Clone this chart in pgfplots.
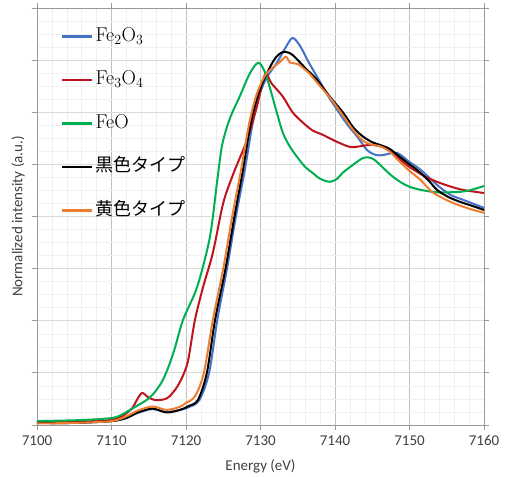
\documentclass[border=0pt]{standalone}
\usepackage{fontspec}
\setmainfont{Carlito}
\newfontfamily\lmr{Latin Modern Roman}
\newfontfamily\jp{Noto Sans CJK JP}
\usepackage{pgfplots}
\pgfplotsset{compat=1.18}

\definecolor{cblue}{RGB}{68,114,196}
\definecolor{cred}{RGB}{192,20,28}
\definecolor{cgreen}{RGB}{0,176,80}
\definecolor{corange}{RGB}{237,125,49}
\definecolor{labgray}{RGB}{64,64,64}

\begin{document}
\begin{tikzpicture}
\useasboundingbox (-37pt,-52pt) rectangle (470pt,425pt);
\begin{axis}[
    scale only axis,
    width=447pt, height=417pt,
    xmin=7100, xmax=7160, ymin=0, ymax=1.6,
    xtick={7100,7110,...,7160},
    ytick={0,0.2,...,1.6},
    yticklabels={},
    minor x tick num=4,
    minor y tick num=3,
    grid=both,
    major x grid style={gray!50, line width=0.8pt},
    major y grid style={gray!30, line width=0.8pt},
    minor grid style={gray!12, line width=0.5pt},
    axis line style={gray!80},
    tick align=outside,
    major tick length=5pt,
    minor tick length=0pt,
    tick style={gray!80, line width=0.8pt},
    xticklabel style={/pgf/number format/1000 sep={}, font=\fontsize{15}{18}\selectfont, text=labgray, yshift=-2pt},
    /pgf/number format/assume math mode=true,
    xlabel={Energy (eV)},
    ylabel={Normalized intensity (a.u.)},
    every axis x label/.style={at={(axis description cs:0.5,-0.098)}, anchor=center,
        font=\fontsize{15}{18}\selectfont, text=labgray},
    every axis y label/.style={at={(axis description cs:-0.0425,0.5)}, rotate=90, anchor=center,
        font=\fontsize{15}{18}\selectfont, text=labgray},
    legend style={at={(axis description cs:0.047,0.962)}, anchor=north west,
        draw=none, fill=none, font=\fontsize{18}{20}\selectfont,
        row sep=22.5pt, nodes={inner sep=2pt, text height=13pt, text depth=4pt}},
    legend cell align=left,
    legend image code/.code={\draw[#1, line width=2.5pt] (0pt,0pt) -- (30pt,0pt);},
    every axis plot/.append style={line width=2pt, smooth, no markers},
]
% Fe2O3
\addplot[cblue] coordinates {
(7100,0.008) (7105,0.008) (7110,0.015) (7112,0.027) (7113.5,0.046) (7115.5,0.061)
(7117.4,0.050) (7119.2,0.058) (7120.5,0.070) (7121.8,0.096) (7123.1,0.200)
(7124.2,0.403) (7125.5,0.600) (7126.7,0.800) (7127.9,0.980) (7128.9,1.150)
(7129.9,1.270) (7130.9,1.336) (7132.2,1.390) (7133.4,1.450) (7134.3,1.485)
(7135.3,1.455) (7136.5,1.390) (7137.6,1.336) (7139,1.266) (7140.3,1.209)
(7141.7,1.151) (7143,1.106) (7144.3,1.055) (7145.5,1.036) (7146.5,1.036)
(7148.3,1.044) (7150,1.009) (7151.5,0.979) (7153.7,0.921) (7155.5,0.883)
(7157.2,0.864) (7160,0.833)
};
\addlegendentry{{\lmr\fontsize{20}{22}\selectfont Fe\textsubscript{2}O\textsubscript{3}}}
% Fe3O4
\addplot[cred] coordinates {
(7100,0.010) (7108,0.015) (7110,0.020) (7111.5,0.035) (7112.8,0.065) (7113.4,0.096)
(7114.1,0.123) (7114.9,0.107) (7115.8,0.096) (7117,0.098) (7117.8,0.110)
(7118.8,0.146) (7119.6,0.190) (7120.3,0.250) (7121.2,0.403) (7122.3,0.530)
(7123.6,0.660) (7125,0.852) (7126.3,0.960) (7127.3,1.030) (7128.2,1.094)
(7129.5,1.220) (7130.6,1.344) (7131.5,1.310) (7133,1.260) (7134.3,1.200)
(7135.7,1.160) (7137,1.130) (7138.4,1.113) (7140,1.090) (7142,1.067)
(7143.5,1.070) (7144.7,1.075) (7146,1.070) (7147.4,1.056) (7148.7,1.020)
(7150,0.990) (7152,0.955) (7153.7,0.933) (7155.5,0.915) (7157.2,0.902) (7160,0.890)
};
\addlegendentry{{\lmr\fontsize{20}{22}\selectfont Fe\textsubscript{3}O\textsubscript{4}}}
% FeO
\addplot[cgreen] coordinates {
(7100,0.015) (7105,0.018) (7108.5,0.023) (7110.7,0.031) (7112.9,0.065)
(7115.2,0.107) (7116.9,0.173) (7118.3,0.276) (7119.6,0.403) (7121.5,0.530)
(7123.2,0.720) (7124.2,0.940) (7124.8,1.067) (7125.5,1.144) (7126.2,1.198)
(7127.2,1.260) (7128.6,1.351) (7129.7,1.390) (7130.5,1.360) (7131.2,1.300)
(7132.2,1.198) (7133,1.121) (7133.9,1.070) (7134.9,1.029) (7136,0.990)
(7137,0.967) (7138,0.945) (7139.3,0.933) (7140.3,0.945) (7141,0.967)
(7142.5,1.000) (7143.8,1.025) (7144.8,1.025) (7145.6,1.010) (7147.8,0.952)
(7150,0.914) (7153.2,0.894) (7156.4,0.894) (7158,0.900) (7160,0.917)
};
\addlegendentry{{\lmr\fontsize{20}{22}\selectfont FeO}}
% black type
\addplot[black] coordinates {
(7100,0.008) (7105,0.008) (7110,0.015) (7112,0.027) (7113.5,0.048) (7115.5,0.063)
(7117.4,0.048) (7119.2,0.058) (7120.3,0.072) (7121.6,0.096) (7122.8,0.200)
(7123.9,0.403) (7125.3,0.600) (7126.5,0.800) (7127.65,0.980) (7128.7,1.160)
(7129.7,1.270) (7130.7,1.340) (7131.8,1.400) (7132.6,1.425) (7133.3,1.432)
(7134.3,1.420) (7136,1.370) (7137.6,1.324) (7139.3,1.260) (7141.1,1.198)
(7142.5,1.140) (7143.8,1.106) (7145,1.085) (7146,1.075) (7147.3,1.060)
(7148.7,1.029) (7150,1.000) (7151,0.979) (7152.5,0.940) (7153.7,0.902)
(7155.2,0.875) (7156.8,0.856) (7158.5,0.840) (7160,0.825)
};
\addlegendentry{{\jp 黒色タイプ}}
% yellow type
\addplot[corange] coordinates {
(7100,0.006) (7105,0.008) (7110,0.015) (7112,0.033) (7113.5,0.055) (7115.5,0.071)
(7117.4,0.058) (7119.2,0.070) (7120,0.085) (7121.2,0.110) (7122.4,0.200)
(7123.6,0.403) (7125,0.600) (7126.2,0.800) (7127.4,0.980) (7128.5,1.160)
(7129.5,1.270) (7130.6,1.340) (7131.6,1.370) (7132.5,1.390) (7133.4,1.413)
(7134,1.390) (7135,1.385) (7136.5,1.350) (7138,1.300) (7139.5,1.250)
(7141,1.190) (7142.5,1.130) (7143.8,1.090) (7145,1.075) (7146,1.070)
(7147.3,1.050) (7148.7,1.010) (7150,0.975) (7151.5,0.940) (7153,0.895)
(7154.5,0.870) (7156,0.850) (7158,0.830) (7160,0.814)
};
\addlegendentry{{\jp 黄色タイプ}}
\end{axis}
\end{tikzpicture}
\end{document}
